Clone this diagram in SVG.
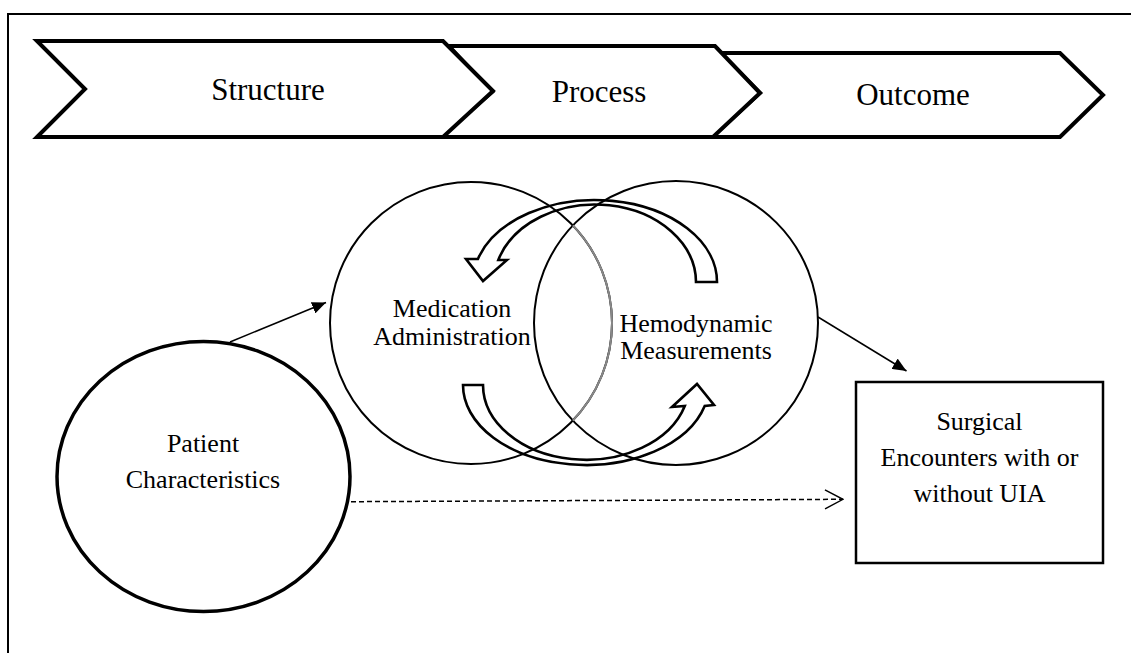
<svg xmlns="http://www.w3.org/2000/svg" width="1131" height="653" viewBox="0 0 1131 653">
<style>
  .lbl { font-family: "Liberation Serif", "Times New Roman", serif; fill: #000; text-anchor: middle; }
  .big { font-size: 31px; }
  .mid { font-size: 26px; }
  .chev { fill: #fff; stroke: #000; stroke-width: 4; stroke-linejoin: miter; }
  .circ { fill: none; stroke: #000; stroke-width: 2; }
  .band { fill: none; stroke: #000; stroke-width: 2.6; stroke-linejoin: miter; }
  .conn { fill: none; stroke: #000; stroke-width: 1.5; }
</style>
<defs>
  <marker id="tri" viewBox="0 0 14 12" refX="14" refY="6" markerWidth="14" markerHeight="12" markerUnits="userSpaceOnUse" orient="auto">
    <path d="M0,0 L14,6 L0,12 z" fill="#000"/>
  </marker>
  <marker id="open" viewBox="-1 -1 20 21" refX="18" refY="9.5" markerWidth="20" markerHeight="21" markerUnits="userSpaceOnUse" orient="auto">
    <path d="M0,0 L18,9.5 L0,19" fill="none" stroke="#000" stroke-width="1.5"/>
  </marker>
</defs>
<rect width="1131" height="653" fill="#fff"/>
<rect id="frame" x="8" y="14" width="1140" height="700" fill="none" stroke="#000" stroke-width="2"/>

<g id="outcome">
  <polygon class="chev" points="720,53 1060,53 1103,95 1060,137 712,137 760,93"/>
  <text class="lbl big" x="913" y="105">Outcome</text>
</g>
<g id="process">
  <polygon class="chev" points="449,46 715,46 760,93 713,137 440,137 492,92"/>
  <text class="lbl big" x="599" y="102">Process</text>
</g>
<g id="structure">
  <polygon class="chev" points="37,41 443,41 493,91 443,137 37,137 85,89"/>
  <text class="lbl big" x="268" y="100">Structure</text>
</g>

<g id="medication">
  <circle class="circ" cx="471" cy="323" r="141"/>
  <text class="lbl mid" x="452" y="317">Medication</text>
  <text class="lbl mid" x="452" y="345">Administration</text>
</g>
<g id="hemodynamic">
  <circle class="circ" cx="676" cy="323" r="142"/>
  <path d="M572.8,225.4 A141,141 0 0 1 572.8,420.6" fill="none" stroke="#888" stroke-width="2"/>
  <text class="lbl mid" x="696" y="332">Hemodynamic</text>
  <text class="lbl mid" x="696" y="359">Measurements</text>
</g>

<g id="cycle-arrows">
  <path class="band" d="M717,282 A122,82 0 0 0 477.9,259 L466,259 L483,281 L507,260 L498.3,260 A101,78 0 0 1 696,282 Z"/>
  <path class="band" d="M483,385 L463,385 A123,80 0 0 0 704.7,406 L714,405 L697,384 L672,407 L684.8,406 A103,75 0 0 1 483,385 Z"/>
</g>

<g id="patient">
  <ellipse cx="203.5" cy="476.5" rx="146.5" ry="135" fill="none" stroke="#000" stroke-width="3.5"/>
  <text class="lbl mid" x="203" y="452">Patient</text>
  <text class="lbl mid" x="203" y="488">Characteristics</text>
</g>

<g id="surgical">
  <rect x="856" y="382" width="247" height="181" fill="none" stroke="#000" stroke-width="2.5"/>
  <text class="lbl mid" x="979.5" y="430">Surgical</text>
  <text class="lbl mid" x="979.5" y="466">Encounters with or</text>
  <text class="lbl mid" x="979.5" y="502">without UIA</text>
</g>

<g id="connectors">
  <line class="conn" x1="230" y1="342" x2="326" y2="302.5" marker-end="url(#tri)"/>
  <line class="conn" x1="818" y1="317" x2="906.5" y2="371" marker-end="url(#tri)"/>
  <line class="conn" x1="351" y1="501.7" x2="843" y2="499.3" stroke-dasharray="5,3" marker-end="url(#open)"/>
</g>
</svg>
